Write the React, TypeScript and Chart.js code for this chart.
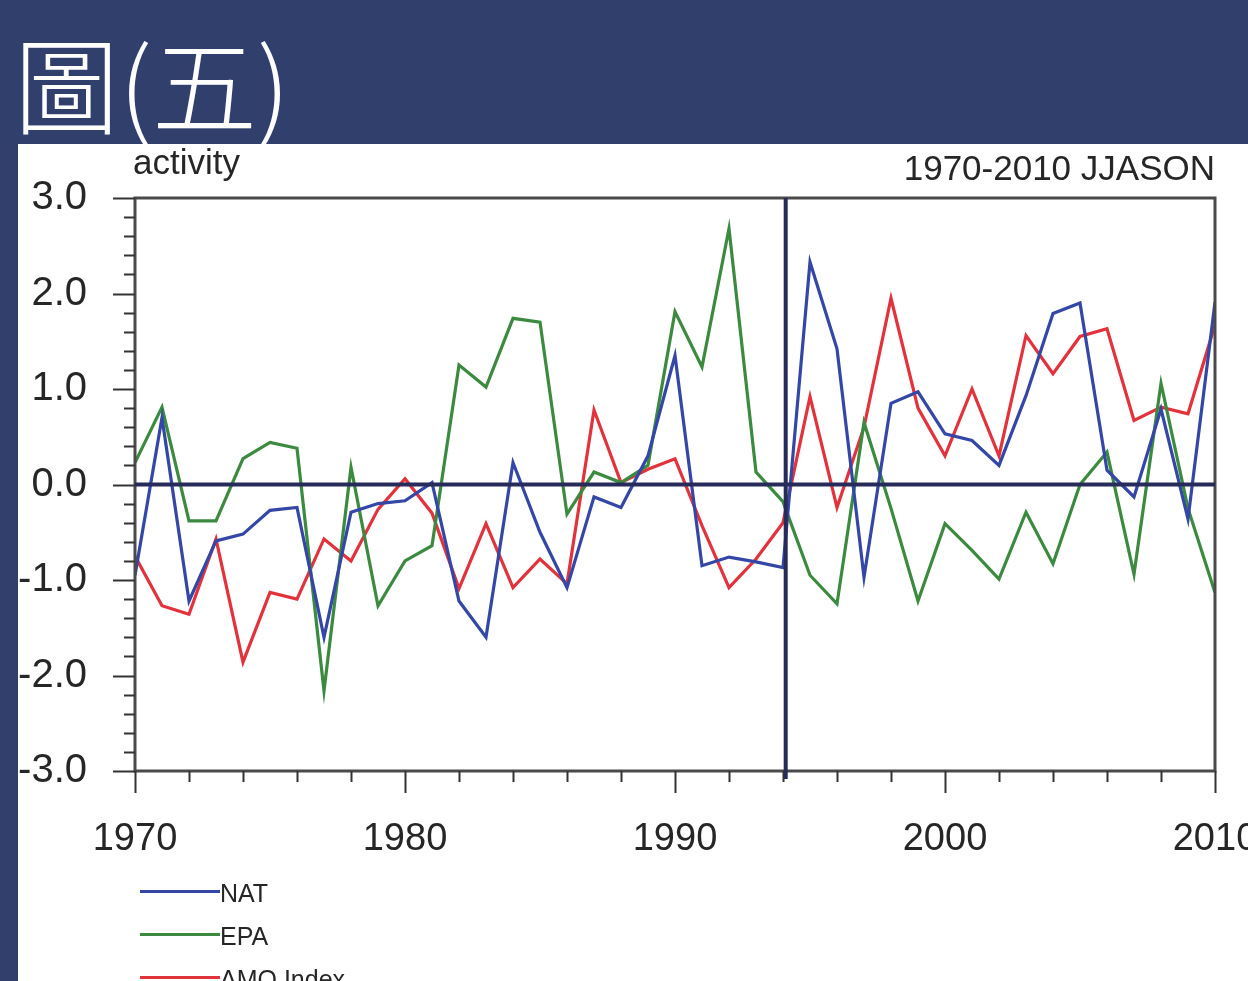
import React, { useEffect, useRef } from 'react';
import { Chart, registerables } from 'chart.js';

Chart.register(...registerables);

const years = [
  1970, 1971, 1972, 1973, 1974, 1975, 1976, 1977, 1978, 1979,
  1980, 1981, 1982, 1983, 1984, 1985, 1986, 1987, 1988, 1989,
  1990, 1991, 1992, 1993, 1994, 1995, 1996, 1997, 1998, 1999,
  2000, 2001, 2002, 2003, 2004, 2005, 2006, 2007, 2008, 2009, 2010,
];

const nat = [
  -0.95, 0.7, -1.22, -0.59, -0.52, -0.27, -0.24, -1.6, -0.29, -0.2,
  -0.17, 0.02, -1.22, -1.6, 0.23, -0.5, -1.08, -0.13, -0.24, 0.3,
  1.35, -0.85, -0.76, -0.81, -0.87, 2.33, 1.42, -0.97, 0.85, 0.97,
  0.53, 0.46, 0.2, 0.93, 1.79, 1.9, 0.15, -0.13, 0.79, -0.36, 1.91,
];

const epa = [
  0.23, 0.81, -0.38, -0.38, 0.27, 0.44, 0.38, -2.16, 0.18, -1.27,
  -0.8, -0.64, 1.25, 1.02, 1.74, 1.7, -0.31, 0.13, 0.02, 0.2,
  1.81, 1.23, 2.68, 0.13, -0.18, -0.95, -1.25, 0.65, -0.25, -1.22,
  -0.41, -0.69, -0.99, -0.29, -0.83, 0.0, 0.34, -0.94, 1.06, -0.25, -1.13,
];

const amo = [
  -0.75, -1.27, -1.36, -0.57, -1.86, -1.13, -1.2, -0.57, -0.8, -0.26,
  0.06, -0.3, -1.09, -0.41, -1.08, -0.78, -1.04, 0.78, 0.02, 0.16,
  0.27, -0.43, -1.08, -0.78, -0.4, 0.92, -0.24, 0.6, 1.95, 0.8,
  0.3, 1.0, 0.3, 1.56, 1.16, 1.55, 1.63, 0.67, 0.81, 0.74, 1.67,
];

const xTickLabels = [1970, 1980, 1990, 2000, 2010];
const dividerYear = 1994.1;

const seriesNames = ['NAT', 'EPA', 'AMO Index'];
const seriesColors = ['#3447a6', '#3b8a3f', '#e2333d'];

const NAVY = '#313f6d';
const FONT = "'Liberation Sans', Arial, Helvetica, sans-serif";
const TEXT = '#262626';

const decorPlugin = {
  id: 'decor',
  afterDatasetsDraw(chart: any) {
    const { ctx, chartArea, scales } = chart;
    const { left, right, top, bottom } = chartArea;
    const x = scales.x;
    const y = scales.y;
    ctx.save();
    // frame
    ctx.strokeStyle = '#4a4a4a';
    ctx.lineWidth = 3;
    ctx.strokeRect(left, top, right - left, bottom - top);
    // ticks y
    ctx.strokeStyle = '#333';
    ctx.lineWidth = 2;
    for (let i = 0; i <= 30; i++) {
      const v = -3 + i * 0.2;
      const py = Math.round(y.getPixelForValue(v)) + 0.5;
      const len = i % 5 === 0 ? 22 : 11;
      ctx.beginPath();
      ctx.moveTo(left - len, py);
      ctx.lineTo(left, py);
      ctx.stroke();
    }
    // ticks x
    for (let yr = 1970; yr <= 2010; yr += 2) {
      const px = Math.round(x.getPixelForValue(yr)) + 0.5;
      const len = (yr - 1970) % 10 === 0 ? 22 : 11;
      ctx.beginPath();
      ctx.moveTo(px, bottom);
      ctx.lineTo(px, bottom + len);
      ctx.stroke();
    }
    // zero line & divider
    ctx.strokeStyle = '#262b5a';
    ctx.lineWidth = 4;
    const y0 = y.getPixelForValue(0);
    ctx.beginPath();
    ctx.moveTo(left, y0);
    ctx.lineTo(right, y0);
    ctx.stroke();
    const xv = x.getPixelForValue(dividerYear);
    ctx.beginPath();
    ctx.moveTo(xv, top);
    ctx.lineTo(xv, bottom + 8);
    ctx.stroke();
    ctx.restore();
  },
};

export default function App() {
  const canvasRef = useRef<HTMLCanvasElement>(null);

  useEffect(() => {
    document.body.style.margin = '0';
    const canvas = canvasRef.current;
    if (!canvas) return;
    const series = [nat, epa, amo];
    const chart = new Chart(canvas, {
      type: 'line',
      data: {
        datasets: series.map((s, k) => ({
          label: seriesNames[k],
          data: years.map((yr, i) => ({ x: yr, y: s[i] })),
          borderColor: seriesColors[k],
          backgroundColor: seriesColors[k],
          borderWidth: 3.2,
          pointRadius: 0,
          tension: 0,
          fill: false,
        })),
      },
      options: {
        animation: false,
        responsive: false,
        events: [],
        layout: {
          autoPadding: false,
          padding: { left: 0, right: 33, top: 198, bottom: 110 },
        },
        plugins: {
          legend: { display: false },
          tooltip: { enabled: false },
          title: { display: false },
        },
        scales: {
          x: {
            type: 'linear',
            min: 1970,
            max: 2010,
            grid: { display: false },
            border: { display: false },
            afterBuildTicks: (scale: any) => {
              scale.ticks = xTickLabels.map((v) => ({ value: v }));
            },
            afterFit: (scale: any) => {
              scale.height = 100;
              scale.paddingLeft = 0;
              scale.paddingRight = 0;
            },
            ticks: {
              autoSkip: false,
              maxRotation: 0,
              padding: 38,
              color: TEXT,
              font: { family: FONT, size: 38 },
              callback: (v: any) => String(v),
            },
          },
          y: {
            type: 'linear',
            min: -3,
            max: 3,
            grid: { display: false },
            border: { display: false },
            afterFit: (scale: any) => {
              scale.width = 135;
              scale.paddingTop = 0;
              scale.paddingBottom = 0;
            },
            ticks: {
              stepSize: 1,
              padding: 40,
              color: TEXT,
              font: { family: FONT, size: 40 },
              callback: (v: any) => Number(v).toFixed(1),
            },
          },
        },
      },
      plugins: [decorPlugin],
    } as any);
    return () => chart.destroy();
  }, []);

  const abs: React.CSSProperties = { position: 'absolute', margin: 0, whiteSpace: 'nowrap' };

  return (
    <div style={{ position: 'relative', width: 1248, height: 981, overflow: 'hidden', background: NAVY }}>
      <div style={{ ...abs, left: 18, top: 144, right: 0, bottom: 0, background: '#ffffff' }} />
      <div
        style={{
          ...abs,
          left: 14,
          top: 27,
          fontSize: 105,
          lineHeight: '106px',
          letterSpacing: 0,
          color: '#ffffff',
          fontFamily: "'Noto Sans CJK TC', 'Noto Sans CJK SC', sans-serif",
          fontWeight: 300,
        }}
      >
        圖(五)
      </div>
      <canvas
        ref={canvasRef}
        width={1248}
        height={981}
        style={{ position: 'absolute', left: 0, top: 0, width: 1248, height: 981 }}
      />
      <div style={{ ...abs, left: 133, top: 144, fontSize: 35, lineHeight: '35px', color: TEXT, fontFamily: FONT }}>
        activity
      </div>
      <div style={{ ...abs, right: 33, top: 150, fontSize: 35, lineHeight: '35px', color: TEXT, fontFamily: FONT }}>
        1970-2010 JJASON
      </div>
      {seriesNames.map((name, k) => (
        <div key={name}>
          <div style={{ ...abs, left: 140, top: 891 + k * 43 - 1, width: 80, height: 3, background: seriesColors[k] }} />
          <div
            style={{
              ...abs,
              left: 220,
              top: 881 + k * 43,
              fontSize: 25,
              lineHeight: '25px',
              color: TEXT,
              fontFamily: FONT,
            }}
          >
            {name}
          </div>
        </div>
      ))}
    </div>
  );
}
